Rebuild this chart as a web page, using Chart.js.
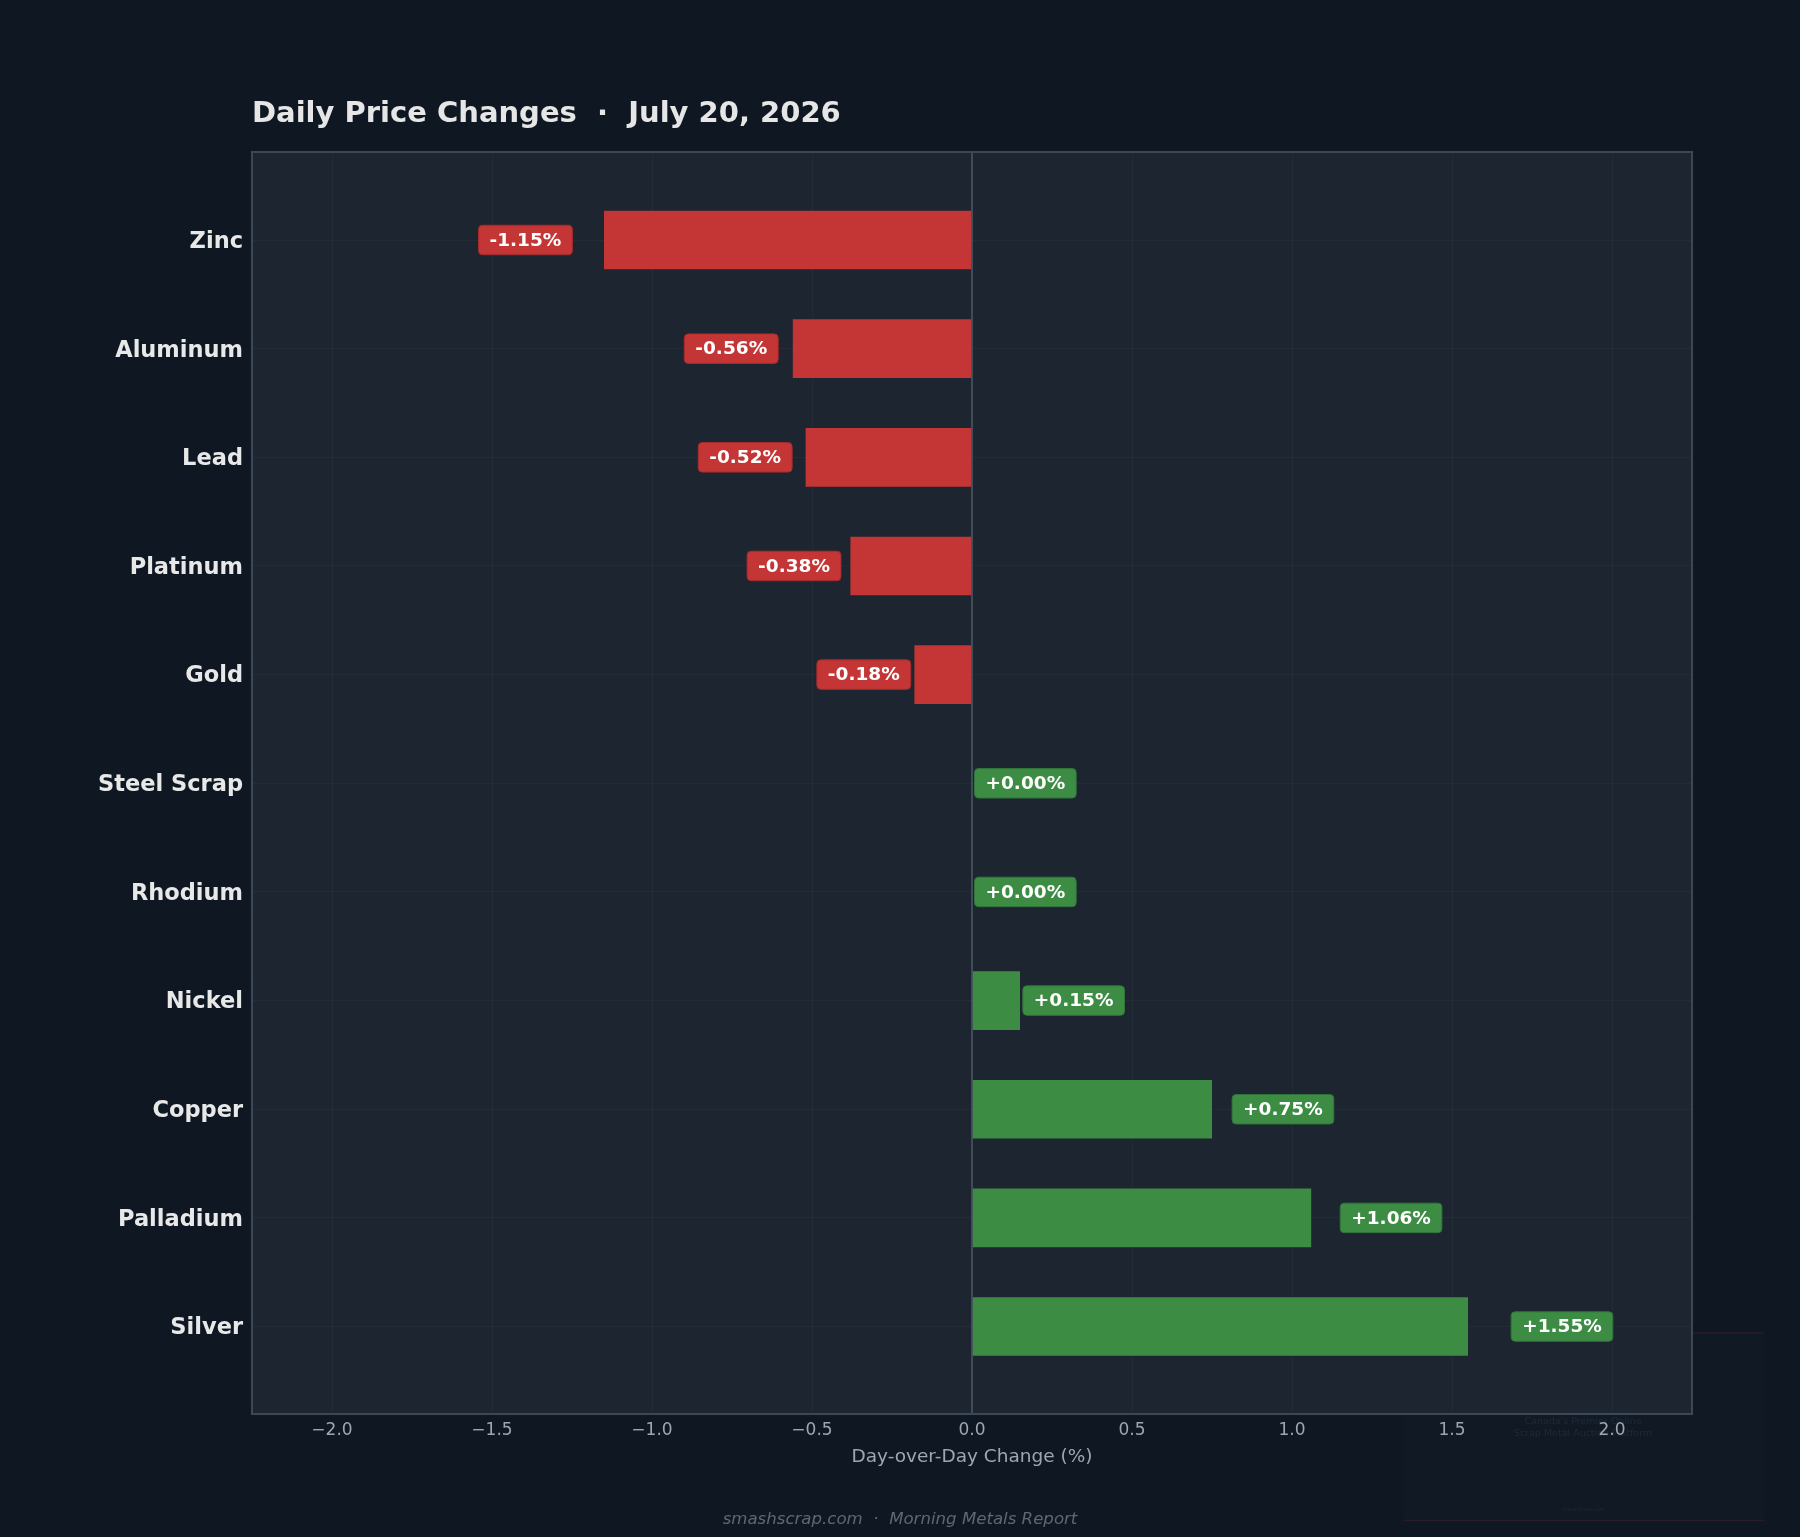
<!DOCTYPE html>
<html>
<head>
<meta charset="utf-8">
<script src="https://cdn.jsdelivr.net/npm/chart.js@4.4.1/dist/chart.umd.min.js"></script>
<style>
  html, body { margin: 0; padding: 0; background: #0f1822; }
  #wrap { width: 1800px; height: 1537px; }
</style>
</head>
<body>
<div id="wrap"><canvas id="c" width="1800" height="1537"></canvas></div>
<script>
// ---- data ----
const categories = ['Zinc', 'Aluminum', 'Lead', 'Platinum', 'Gold', 'Steel Scrap', 'Rhodium', 'Nickel', 'Copper', 'Palladium', 'Silver'];
const changes = [-1.15, -0.56, -0.52, -0.38, -0.18, 0.00, 0.00, 0.15, 0.75, 1.06, 1.55];
const xTickValues = [-2.0, -1.5, -1.0, -0.5, 0.0, 0.5, 1.0, 1.5, 2.0];
const titleText = 'Daily Price Changes  \u00b7  July 20, 2026';
const xAxisTitle = 'Day-over-Day Change (%)';
const footerText = 'smashscrap.com  \u00b7  Morning Metals Report';
const watermarkLines = ["Canada's Premier Online", 'Scrap Metal Auction Platform'];
const watermarkSite = 'smashscrap.com';

// ---- styles ----
const FIG_BG = '#0f1822';
const PLOT_BG = '#1c2530';
const GRID = 'rgba(255,255,255,0.03)';
const RED = '#c43535';
const RED_EDGE = '#a82b2b';
const GREEN = '#3c8c44';
const GREEN_EDGE = '#31753a';
const FONT = "'DejaVu Sans', 'Liberation Sans', sans-serif";

Chart.defaults.font.family = FONT;

function fmtTick(v) {
  const s = Math.abs(v).toFixed(1);
  return v < 0 ? '\u2212' + s : s;
}
function fmtLabel(v) {
  return (v < 0 ? '' : '+') + v.toFixed(2) + '%';
}

function roundRect(c, x, y, w, h, r) {
  c.beginPath();
  c.moveTo(x + r, y);
  c.lineTo(x + w - r, y);
  c.quadraticCurveTo(x + w, y, x + w, y + r);
  c.lineTo(x + w, y + h - r);
  c.quadraticCurveTo(x + w, y + h, x + w - r, y + h);
  c.lineTo(x + r, y + h);
  c.quadraticCurveTo(x, y + h, x, y + h - r);
  c.lineTo(x, y + r);
  c.quadraticCurveTo(x, y, x + r, y);
  c.closePath();
}

const deco = {
  id: 'deco',
  beforeDraw(chart) {
    const c = chart.ctx;
    c.save();
    c.fillStyle = FIG_BG;
    c.fillRect(0, 0, chart.width, chart.height);
    // faint watermark panel (bottom right, under the plot)
    c.fillStyle = 'rgba(20,34,52,0.18)';
    c.fillRect(1404, 1333, 360, 188);
    c.strokeStyle = 'rgba(110,35,50,0.3)';
    c.lineWidth = 1.5;
    c.beginPath();
    c.moveTo(1404, 1333); c.lineTo(1764, 1333);
    c.moveTo(1404, 1520.5); c.lineTo(1764, 1520.5);
    c.stroke();
    c.fillStyle = 'rgba(55,68,86,0.4)';
    c.textAlign = 'center';
    c.textBaseline = 'middle';
    c.font = '9.5px ' + FONT;
    c.fillText(watermarkLines[0], 1583, 1422);
    c.fillText(watermarkLines[1], 1583, 1434);
    c.font = '5px ' + FONT;
    c.fillText(watermarkSite, 1583, 1510);
    // footer
    c.fillStyle = '#5d6874';
    c.font = 'italic 16.6px ' + FONT;
    c.fillText(footerText, 900, 1520);
    // plot background
    const a = chart.chartArea;
    c.fillStyle = PLOT_BG;
    c.fillRect(a.left, a.top, a.right - a.left, a.bottom - a.top);
    c.restore();
  },
  afterDatasetsDraw(chart) {
    const c = chart.ctx;
    const a = chart.chartArea;
    const xs = chart.scales.x;
    const ys = chart.scales.y;
    c.save();
    // zero line
    const x0 = xs.getPixelForValue(0);
    c.strokeStyle = '#4a5664';
    c.lineWidth = 1.6;
    c.beginPath();
    c.moveTo(x0, a.top); c.lineTo(x0, a.bottom);
    c.stroke();
    // frame
    c.strokeStyle = '#3a4858';
    c.lineWidth = 2;
    c.strokeRect(a.left, a.top, a.right - a.left, a.bottom - a.top);
    // value labels
    c.font = 'bold 18.5px ' + FONT;
    c.textAlign = 'center';
    c.textBaseline = 'middle';
    changes.forEach((v, i) => {
      const text = fmtLabel(v);
      const w = c.measureText(text).width + 22;
      const h = 29.5;
      const y = ys.getPixelForValue(i);
      const neg = v < 0;
      const barEnd = xs.getPixelForValue(v);
      let edge = xs.getPixelForValue(v * 1.09) + (neg ? 1.5 : -1.5);
      if (neg) edge = Math.min(edge, barEnd - 1);
      else edge = Math.max(edge, barEnd + 2.5);
      const bx = neg ? edge - w : edge;
      roundRect(c, bx, y - h / 2, w, h, 4);
      c.fillStyle = neg ? RED : GREEN;
      c.fill();
      c.lineWidth = 1;
      c.strokeStyle = neg ? RED_EDGE : GREEN_EDGE;
      c.stroke();
      c.fillStyle = '#ffffff';
      c.fillText(text, bx + w / 2, y + 1);
    });
    c.restore();
  }
};

new Chart(document.getElementById('c'), {
  type: 'bar',
  data: {
    datasets: [{
      data: changes.map((v, i) => ({ x: v, y: i })),
      backgroundColor: changes.map(v => v < 0 ? RED : GREEN),
      borderWidth: 0,
      categoryPercentage: 1,
      barPercentage: 0.54
    }]
  },
  options: {
    indexAxis: 'y',
    responsive: false,
    animation: false,
    devicePixelRatio: 1,
    layout: { padding: { left: 0, right: 108, top: 0, bottom: 0 } },
    plugins: {
      legend: { display: false },
      tooltip: { enabled: false },
      title: {
        display: true, text: titleText, align: 'start', fullSize: false,
        color: '#e6e6e6', font: { size: 29, weight: 'bold' },
        padding: { top: 96.6, bottom: 20.6 }
      }
    },
    scales: {
      x: {
        type: 'linear', min: -2.25, max: 2.25,
        afterBuildTicks: s => { s.ticks = xTickValues.map(v => ({ value: v })); },
        afterFit: s => { s.height = 123; },
        grid: { color: GRID, lineWidth: 1, drawTicks: false },
        border: { display: false },
        ticks: { color: '#9ba7b4', font: { size: 17 }, padding: 6, autoSkip: false, maxRotation: 0, callback: v => fmtTick(v) },
        title: { display: true, text: xAxisTitle, color: '#9ba7b4', font: { size: 18.5 }, padding: { top: 0, bottom: 68.9 } }
      },
      y: {
        type: 'linear', reverse: true, min: -0.81, max: 10.805, offset: false,
        afterBuildTicks: s => { s.ticks = categories.map((_, i) => ({ value: i })); },
        afterFit: s => { s.width = 252; },
        grid: { color: GRID, lineWidth: 1, drawTicks: false, offset: false },
        border: { display: false },
        ticks: { color: '#e8e8e8', font: { size: 22.5, weight: 'bold' }, padding: 9, labelOffset: 2, autoSkip: false, callback: v => categories[v] }
      }
    }
  },
  plugins: [deco]
});
</script>
</body>
</html>
